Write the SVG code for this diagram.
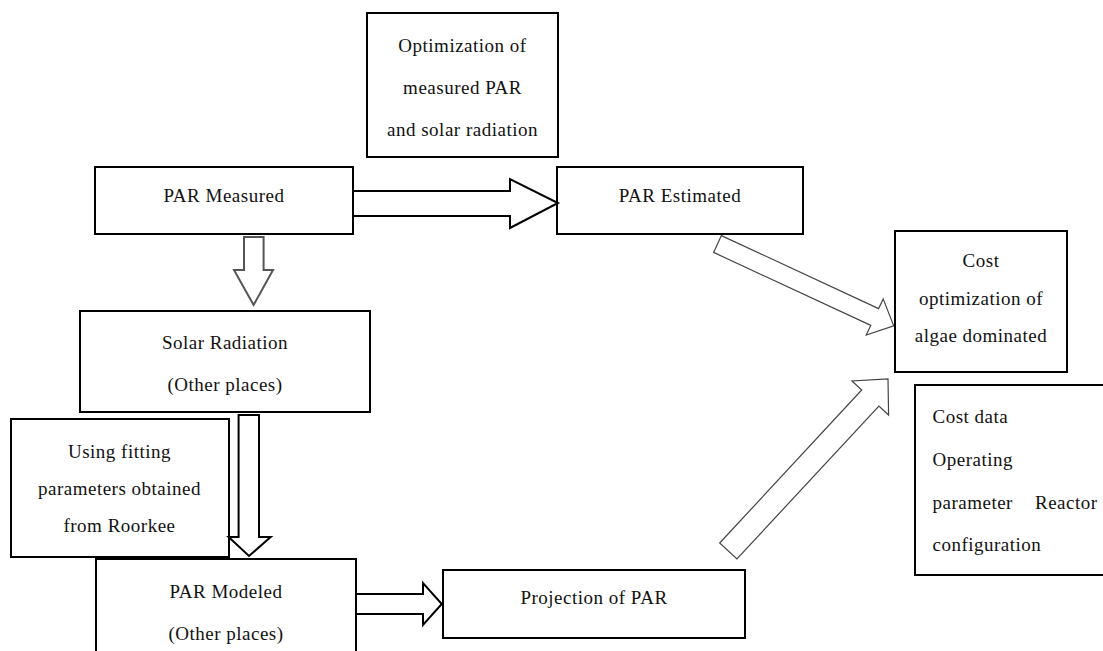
<svg xmlns="http://www.w3.org/2000/svg" width="1103" height="651" viewBox="0 0 1103 651">
<style>
.box{fill:none;stroke:#000;stroke-width:2}
.t{font-family:"Liberation Serif","Times New Roman",serif;font-size:19px;letter-spacing:0.5px;fill:#111}
.c{text-anchor:middle}
.thick{fill:#fff;stroke:#000;stroke-width:2}
.gray{fill:#fff;stroke:#555;stroke-width:2}
.thin{fill:#fff;stroke:#444;stroke-width:1.2}
</style>
<rect width="1103" height="651" fill="#fff"/>
<g id="connectors">
<polygon class="thick" points="353,191 510,191 510,179 558,203 510,228 510,216 353,216"/>
<polygon class="gray" points="244,237 263.6,237 263.6,270 273,270 253.6,305 234,270 244,270"/>
<polygon class="thick" points="238.6,415 259,415 259,537 270.7,537 249,556 228.6,537 238.6,537"/>
<polygon class="thick" points="356,594 423,594 423,583 441.8,604 423,625 423,614 356,614"/>
<polygon class="thin" points="721.4,235.6 878.6,308.6 883.2,298.9 893.7,325.9 866.2,335.1 870.8,325.4 713.6,252.4"/>
<polygon class="thin" points="719.7,543 861.7,390 852,381 888,379 888.6,415 878.9,406 736.9,559"/>
</g>
<g id="opt">
<rect class="box" x="367" y="13" width="191" height="144"/>
<text class="t c" x="462.5" y="52">Optimization of</text>
<text class="t c" x="462.5" y="94">measured PAR</text>
<text class="t c" x="462.5" y="136">and solar radiation</text>
</g>
<g id="par-measured">
<rect class="box" x="95" y="167" width="258" height="67"/>
<text class="t c" x="224" y="202">PAR Measured</text>
</g>
<g id="par-estimated">
<rect class="box" x="557" y="167" width="246" height="67"/>
<text class="t c" x="680" y="202">PAR Estimated</text>
</g>
<g id="solar-radiation">
<rect class="box" x="80" y="311" width="290" height="101"/>
<text class="t c" x="225" y="349">Solar Radiation</text>
<text class="t c" x="225" y="391">(Other places)</text>
</g>
<g id="fitting">
<rect class="box" x="11" y="419" width="218" height="138"/>
<text class="t c" x="119.5" y="458">Using fitting</text>
<text class="t c" x="119.5" y="495">parameters obtained</text>
<text class="t c" x="119.5" y="531.5">from Roorkee</text>
</g>
<g id="par-modeled">
<rect class="box" x="96" y="559" width="260" height="100"/>
<text class="t c" x="226" y="597.5">PAR Modeled</text>
<text class="t c" x="226" y="640">(Other places)</text>
</g>
<g id="projection">
<rect class="box" x="443" y="570" width="302" height="68"/>
<text class="t c" x="594" y="604">Projection of PAR</text>
</g>
<g id="cost-opt">
<rect class="box" x="895" y="231" width="172" height="141"/>
<text class="t c" x="981" y="266.5">Cost</text>
<text class="t c" x="981" y="305">optimization of</text>
<text class="t c" x="981" y="341.5">algae dominated</text>
</g>
<g id="cost-data">
<rect class="box" x="915" y="385" width="200" height="190"/>
<text class="t" x="932.5" y="423">Cost data</text>
<text class="t" x="932.5" y="465.5">Operating</text>
<text class="t" y="508.5"><tspan x="932.5">parameter</tspan><tspan x="1035">Reactor</tspan></text>
<text class="t" x="932.5" y="551">configuration</text>
</g>
</svg>
